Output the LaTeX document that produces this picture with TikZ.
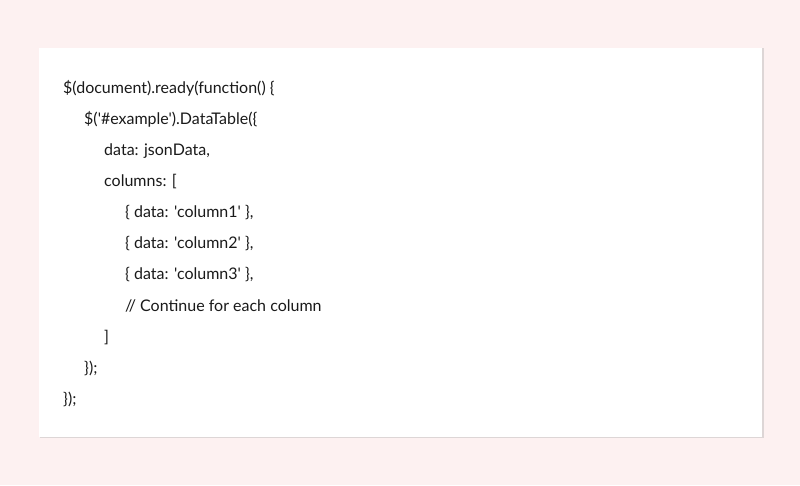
\documentclass[tikz,border=0pt]{standalone}
\usepackage{fontspec}
\setmainfont{Lato}[Ligatures=TeXOff]
\definecolor{bgpink}{HTML}{FDF1F1}
\definecolor{shadowc}{HTML}{DDD6D6}
\definecolor{codec}{HTML}{1A1A1A}
\begin{document}
\begin{tikzpicture}[x=1pt,y=1pt,
  code/.style={anchor=base west,inner sep=0pt,font=\fontsize{16}{19}\selectfont,text=codec}]
\fill[bgpink] (0,0) rectangle (800,485);
\useasboundingbox (0,0) rectangle (800,485);
\fill[shadowc] (40,47) rectangle (763.5,436.5);
\fill[white] (39,48) rectangle (762,437);
\node[code] (l1) at (63,391) {\$(document).ready(function() \{};
\node[code] (l2) at (84,360) {\$('\#example').DataTable(\{};
\node[code] (l3) at (104,329) {data: jsonData,};
\node[code] (l4) at (104,298) {columns: [};
\node[code] (l5) at (125,267) {\{ data: 'column1' \},};
\node[code] (l6) at (125,236) {\{ data: 'column2' \},};
\node[code] (l7) at (125,205) {\{ data: 'column3' \},};
\node[code] (l8) at (125,174) {// Continue for each column};
\node[code] (l9) at (104,143) {]};
\node[code] (l10) at (84,112) {\});};
\node[code] (l11) at (63,81) {\});};
\end{tikzpicture}
\end{document}
